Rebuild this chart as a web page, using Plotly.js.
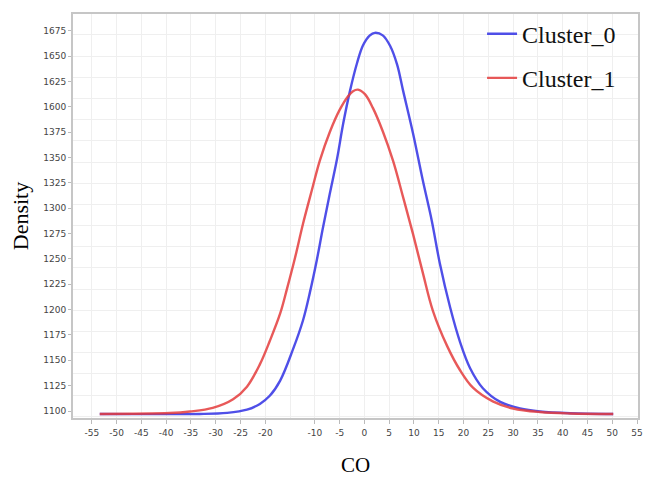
<!DOCTYPE html>
<html>
<head>
<meta charset="utf-8">
<script src="https://cdn.plot.ly/plotly-3.0.1.min.js"></script>
<style>html,body{margin:0;padding:0;background:#fff;}#chart{width:657px;height:481px;}</style>
</head>
<body>
<div id="chart"></div>
<script>
// X tick labels as shown (the -15 label is absent in the reference)
const xTickVals = [-55,-50,-45,-40,-35,-30,-25,-20,-10,-5,0,5,10,15,20,25,30,35,40,45,50,55];
const xTickText = ["-55","-50","-45","-40","-35","-30","-25","-20","-10","-5","0","5","10","15","20","25","30","35","40","45","50","55"];
// Y tick labels as printed in the reference
const yTickVals = [1100,1125,1150,1175,1200,1225,1250,1275,1300,1325,1350,1375,1400,1425,1450,1475];
const yTickText = ["1100","1125","1150","1175","1200","1225","1250","1275","1300","1325","1350","1375","1600","1625","1650","1675"];

// Cluster_0 (blue)
const c0x = [-53.4,-33.2,-27.7,-23.7,-21.1,-19.1,-17.0,-14.4,-12.4,-11.0,-9.6,-8.4,-7.0,-5.5,-4.3,-2.9,-1.5,-0.3,1.1,2.1,3.7,5.2,6.6,7.8,9.8,11.8,13.6,15.2,17.3,19.3,21.3,23.9,27.4,31.4,35.4,41.5,50.2];
const c0y = [1097.1,1097.1,1098.2,1101.3,1107.0,1115.0,1130.0,1161.0,1189.3,1217.0,1249.0,1280.0,1314.0,1349.3,1383.0,1416.0,1443.0,1460.5,1470.5,1473.0,1470.5,1460.0,1441.6,1416.0,1374.0,1327.0,1287.5,1246.0,1202.1,1168.0,1142.5,1122.5,1109.0,1102.5,1099.5,1097.8,1097.1];
// Cluster_1 (red)
const c1x = [-53.4,-39.3,-35.2,-30.6,-26.5,-23.7,-21.1,-19.1,-17.0,-15.6,-14.0,-12.4,-10.6,-9.0,-7.0,-5.0,-3.3,-2.3,-1.3,0.1,1.7,3.7,5.8,7.8,9.8,11.8,13.8,16.7,19.3,21.9,25.9,30.0,35.4,41.5,50.2];
const c1y = [1097.1,1098.0,1099.5,1103.0,1111.5,1124.0,1146.0,1169.0,1196.2,1221.0,1251.2,1284.5,1318.0,1347.0,1375.0,1397.0,1410.5,1415.5,1417.0,1412.5,1399.0,1376.0,1346.4,1311.0,1274.7,1236.0,1199.1,1164.0,1140.2,1123.0,1109.5,1102.5,1099.0,1097.6,1097.1];

const seriesNames = ["Cluster_0","Cluster_1"];

const traces = [
  {x:c0x, y:c0y, name:seriesNames[0], type:'scatter', mode:'lines', legendgroup:'a',
   line:{color:'rgba(60,60,230,0.9)', width:2.4, shape:'spline', smoothing:1}},
  {x:c1x, y:c1y, name:seriesNames[1], type:'scatter', mode:'lines', legendgroup:'b',
   line:{color:'rgba(228,60,60,0.85)', width:2.4, shape:'spline', smoothing:1}}
];

const tickFont = {family:'DejaVu Sans', size:9, color:'#444'};
const layout = {
  width:657, height:481,
  margin:{l:73, r:19, t:12, b:63},
  paper_bgcolor:'#fff', plot_bgcolor:'#fff',
  showlegend:true,
  legend:{x:0.724, y:1.006, xanchor:'left', yanchor:'top', bgcolor:'rgba(0,0,0,0)',
          font:{family:'Liberation Serif', size:24, color:'#111'}, traceorder:'grouped', tracegroupgap:10},
  xaxis:{range:[-58.8,55.2], tickmode:'array', tickvals:xTickVals, ticktext:xTickText,
         showgrid:true, gridcolor:'#efefef', gridwidth:1, zeroline:false,
         minor:{tick0:-55, dtick:5, showgrid:true, gridcolor:'#efefef', ticks:''},
         ticks:'outside', ticklen:4, tickcolor:'#bbb', ticklabelstandoff:1,
         showline:true, mirror:true, linecolor:'#c6c6c6', linewidth:2,
         tickfont:tickFont,
         title:{text:'CO', font:{family:'Liberation Serif', size:21, color:'#000'}, standoff:21}},
  yaxis:{range:[1093.1,1491.6], tickmode:'array', tickvals:yTickVals, ticktext:yTickText,
         showgrid:false, zeroline:false,
         minor:{tick0:1115.7, dtick:20.9, showgrid:true, gridcolor:'#efefef', ticks:''},
         ticks:'outside', ticklen:3, tickcolor:'#bbb',
         showline:true, mirror:true, linecolor:'#c6c6c6', linewidth:2,
         tickfont:tickFont,
         title:{text:'Density', font:{family:'Liberation Serif', size:22, color:'#000'}, standoff:9}}
};

Plotly.newPlot('chart', traces, layout, {displayModeBar:false, staticPlot:true});
</script>
</body>
</html>
